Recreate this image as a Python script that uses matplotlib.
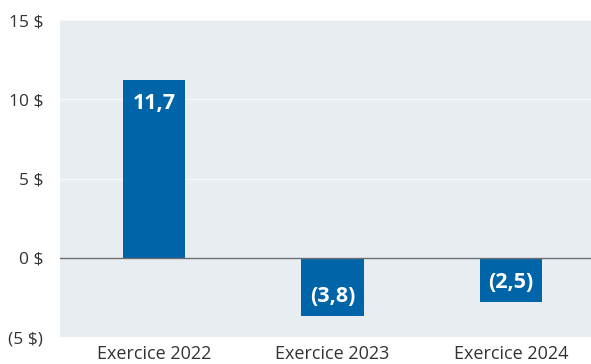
import matplotlib
matplotlib.use("Agg")
import matplotlib.pyplot as plt

categories = ["Exercice 2022", "Exercice 2023", "Exercice 2024"]
values = [11.2, -3.7, -2.8]
value_labels = ["11,7", "(3,8)", "(2,5)"]
yticks = [-5, 0, 5, 10, 15]
ytick_labels = ["(5 $)", "0 $", "5 $", "10 $", "15 $"]

plt.rcParams['font.family'] = ['Open Sans', 'DejaVu Sans']

fig = plt.figure(figsize=(5.91, 3.64), dpi=100)
ax = fig.add_axes([60/591, 27/364, 531/591, 317/364])
ax.set_facecolor("#E8EDF2")

x = list(range(len(categories)))
bar_color = "#0064A8"
ax.bar(x, values, width=0.35, color=bar_color, zorder=3)
ax.axhline(0, color="#6E6E6E", linewidth=1, zorder=4)

for xi, v, lab in zip(x, values, value_labels):
    off = -23 if v >= 0 else 20
    ax.annotate(lab, (xi, v), xytext=(0, off), textcoords="offset pixels",
                ha="center", va="center", color="white", fontsize=15.5,
                fontweight="bold", zorder=5)

ax.set_xlim(-0.527, 2.448)
ax.set_ylim(-5, 15)
ax.set_yticks(yticks)
ax.set_yticklabels(ytick_labels)
ax.set_xticks(x)
ax.set_xticklabels(categories)
ax.grid(axis="y", color="#F4F6F9", linewidth=1, zorder=1)
ax.tick_params(axis="both", length=0, colors="#333333")
ax.tick_params(axis="y", pad=12, labelsize=12.5)
ax.tick_params(axis="x", pad=6, labelsize=13)
for s in ax.spines.values():
    s.set_visible(False)

fig.savefig("out.png", dpi=100)
